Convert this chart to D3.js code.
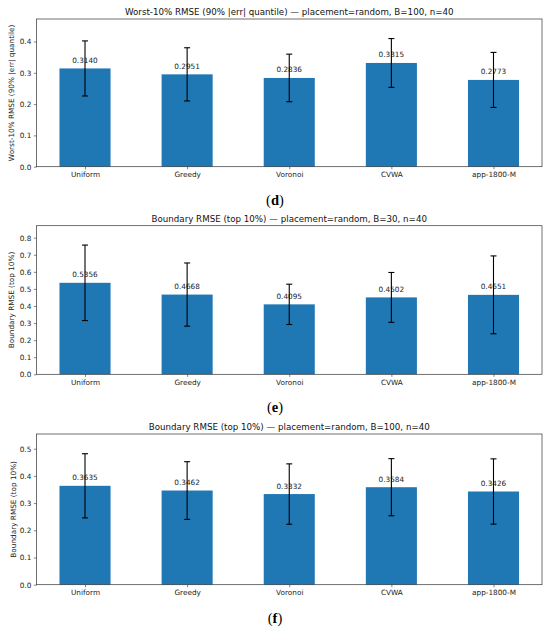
<!DOCTYPE html>
<html>
<head>
<meta charset="utf-8">
<script src="https://cdn.jsdelivr.net/npm/d3@7"></script>
<style>
  body { margin: 0; background: #fff; }
  svg { display: block; font-family: 'DejaVu Sans', sans-serif; }
</style>
</head>
<body>
<div id="svg-container"></div>
<script>
// categories shared by all three panels
const categories = ['Uniform', 'Greedy', 'Voronoi', 'CVWA', 'app-1800-M']

// (d) worst-10% RMSE, B=100
const worstValues = [0.3140, 0.2951, 0.2836, 0.3315, 0.2773]
const worstErrors = [0.088, 0.085, 0.076, 0.078, 0.088]

// (e) boundary RMSE, B=30
const boundary30Values = [0.5356, 0.4668, 0.4095, 0.4502, 0.4651]
const boundary30Errors = [0.221, 0.185, 0.118, 0.146, 0.228]

// (f) boundary RMSE, B=100
const boundary100Values = [0.3635, 0.3462, 0.3332, 0.3584, 0.3426]
const boundary100Errors = [0.118, 0.106, 0.111, 0.105, 0.120]

const panels = [
  {
    title: 'Worst-10% RMSE (90% |err| quantile) — placement=random, B=100, n=40',
    yLabel: 'Worst-10% RMSE (90% |err| quantile)',
    caption: '(d)',
    values: worstValues,
    errors: worstErrors,
    yMax: 0.472,
    yTicks: [0, 0.1, 0.2, 0.3, 0.4],
    top: 19, bottom: 166.7, titleY: 15, labelX: 11, captionY: 205,
  },
  {
    title: 'Boundary RMSE (top 10%) — placement=random, B=30, n=40',
    yLabel: 'Boundary RMSE (top 10%)',
    caption: '(e)',
    values: boundary30Values,
    errors: boundary30Errors,
    yMax: 0.87,
    yTicks: [0, 0.1, 0.2, 0.3, 0.4, 0.5, 0.6, 0.7, 0.8],
    top: 225.7, bottom: 374.3, titleY: 221.5, labelX: 11, captionY: 412,
  },
  {
    title: 'Boundary RMSE (top 10%) — placement=random, B=100, n=40',
    yLabel: 'Boundary RMSE (top 10%)',
    caption: '(f)',
    values: boundary100Values,
    errors: boundary100Errors,
    yMax: 0.554,
    yTicks: [0, 0.1, 0.2, 0.3, 0.4, 0.5],
    top: 434, bottom: 584.7, titleY: 429.5, labelX: 13, captionY: 623,
  },
]

const svgWidth = 550
const svgHeight = 628
const left = 36.5
const right = 542
const barColor = '#1f77b4'

const svg = d3
  .select('#svg-container')
  .append('svg')
  .attr('width', svgWidth)
  .attr('height', svgHeight)

const x = d3.scaleLinear().domain([-0.475, 4.475]).range([left, right])
const barWidth = x(0.5) - x(0)

panels.forEach(p => {
  const y = d3.scaleLinear().domain([0, p.yMax]).range([p.bottom, p.top])
  const g = svg.append('g')

  // bars
  g.selectAll('rect.bar')
    .data(p.values)
    .join('rect')
    .attr('class', 'bar')
    .attr('x', (d, i) => x(i) - barWidth / 2)
    .attr('width', barWidth)
    .attr('y', d => y(d))
    .attr('height', d => y(0) - y(d))
    .attr('fill', barColor)

  // value labels
  g.selectAll('text.val')
    .data(p.values)
    .join('text')
    .attr('class', 'val')
    .attr('x', (d, i) => x(i))
    .attr('y', d => y(d) - 5.5)
    .attr('text-anchor', 'middle')
    .attr('font-size', 7.3)
    .attr('fill', '#222')
    .text(d => d.toFixed(4))

  // error bars
  const err = g.selectAll('g.err')
    .data(p.values.map((v, i) => ({ v, e: p.errors[i], i })))
    .join('g')
    .attr('class', 'err')
    .attr('stroke', '#000')
    .attr('stroke-width', 1.1)
  err.append('line')
    .attr('x1', d => x(d.i)).attr('x2', d => x(d.i))
    .attr('y1', d => y(d.v - d.e)).attr('y2', d => y(d.v + d.e))
  err.append('line')
    .attr('x1', d => x(d.i) - 3).attr('x2', d => x(d.i) + 3)
    .attr('y1', d => y(d.v + d.e)).attr('y2', d => y(d.v + d.e))
  err.append('line')
    .attr('x1', d => x(d.i) - 3).attr('x2', d => x(d.i) + 3)
    .attr('y1', d => y(d.v - d.e)).attr('y2', d => y(d.v - d.e))

  // y axis
  const yAxis = g.append('g')
    .attr('transform', `translate(${left},0)`)
    .call(d3.axisLeft(y).tickValues(p.yTicks).tickFormat(d3.format('.1f')).tickSize(2.6).tickPadding(2.6))
  yAxis.select('.domain').remove()

  // x axis
  const xAxis = g.append('g')
    .attr('transform', `translate(0,${p.bottom})`)
    .call(d3.axisBottom(x).tickValues(d3.range(categories.length)).tickFormat(i => categories[i]).tickSize(2.6).tickPadding(2.6))
  xAxis.select('.domain').remove()

  g.selectAll('.tick text').attr('font-size', 7.3).attr('fill', '#222').attr('font-family', 'DejaVu Sans, sans-serif')
  g.selectAll('.tick line').attr('stroke', '#333').attr('stroke-width', 0.6)

  // frame
  g.append('rect')
    .attr('x', left).attr('y', p.top)
    .attr('width', right - left).attr('height', p.bottom - p.top)
    .attr('fill', 'none').attr('stroke', '#333').attr('stroke-width', 0.7)

  // title
  g.append('text')
    .attr('x', (left + right) / 2)
    .attr('y', p.titleY)
    .attr('text-anchor', 'middle')
    .attr('font-size', 8.7)
    .attr('fill', '#111')
    .text(p.title)

  // y label
  g.append('text')
    .attr('transform', `translate(${p.labelX},${(p.top + p.bottom) / 2}) rotate(-90)`)
    .attr('text-anchor', 'middle')
    .attr('dominant-baseline', 'central')
    .attr('font-size', 7.3)
    .attr('fill', '#222')
    .text(p.yLabel)

  // panel caption
  const cap = g.append('text')
    .attr('x', 275)
    .attr('y', p.captionY)
    .attr('text-anchor', 'middle')
    .attr('font-family', "'Liberation Serif', serif")
    .attr('font-size', 14.5)
    .attr('fill', '#000')
  cap.append('tspan').text('(')
  cap.append('tspan').attr('font-weight', 'bold').text(p.caption.slice(1, -1))
  cap.append('tspan').text(')')
})
</script>
</body>
</html>
